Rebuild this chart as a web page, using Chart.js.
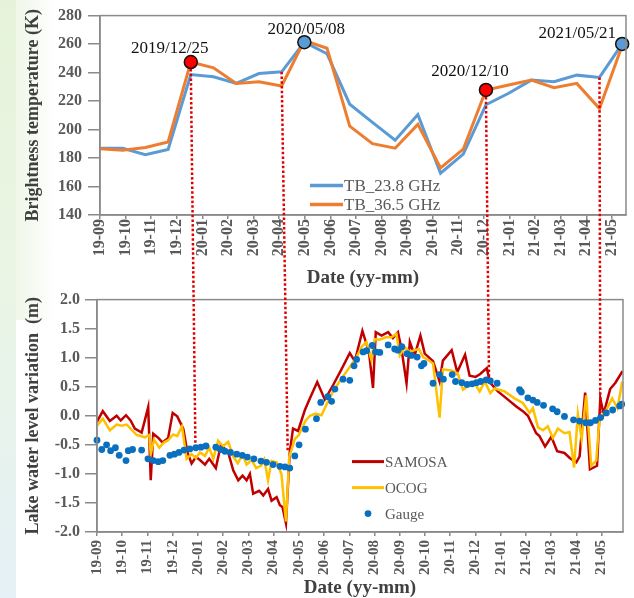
<!DOCTYPE html>
<html>
<head>
<meta charset="utf-8">
<script src="https://cdn.jsdelivr.net/npm/chart.js@4.4.0/dist/chart.umd.min.js"></script>
<style>
html,body{margin:0;padding:0;}
body{width:634px;height:598px;position:relative;overflow:hidden;background:#ffffff;}
#bgStrip{position:absolute;left:0;top:0;width:16px;height:598px;background:linear-gradient(to bottom,#e6f3da 0%,#eaf5e4 45%,#e5f1f6 100%);}
#bgGlow{position:absolute;left:16px;top:0;width:40px;height:320px;background:linear-gradient(to right,rgba(238,246,230,0.9),rgba(255,255,255,0));}
#topChart{position:absolute;left:0;top:0;}
#bottomChart{position:absolute;left:0;top:285px;}
#overlay{position:absolute;left:0;top:0;pointer-events:none;}
</style>
</head>
<body>
<div id="bgStrip"></div><div id="bgGlow"></div>
<canvas id="topChart" width="634" height="292"></canvas>
<canvas id="bottomChart" width="634" height="313"></canvas>
<canvas id="overlay" width="634" height="598"></canvas>
<script>
// ---------------- DATA ----------------
const monthLabels = ['19-09','19-10','19-11','19-12','20-01','20-02','20-03','20-04','20-05','20-06','20-07','20-08','20-09','20-10','20-11','20-12','21-01','21-02','21-03','21-04','21-05'];
const axisOrigin = '2019-09-08';

// Brightness temperature (K), one value every 27 days
const tbDates = ['2019-09-08','2019-10-05','2019-11-01','2019-11-28','2019-12-25','2020-01-21','2020-02-17','2020-03-15','2020-04-11','2020-05-08','2020-06-04','2020-07-01','2020-07-28','2020-08-24','2020-09-20','2020-10-17','2020-11-13','2020-12-10','2021-01-06','2021-02-02','2021-03-01','2021-03-28','2021-04-24','2021-05-21'];
const tb238 = [186.9,186.9,182.3,186.0,238.6,237.0,232.4,239.3,240.5,261.3,253.2,217.8,205.0,192.5,210.5,169.3,182.8,217.4,225.5,234.7,233.6,238.2,236.6,260.1];
const tb365 = [186.5,185.5,187.4,191.3,247.4,243.3,232.4,233.6,230.6,262.5,257.1,202.4,190.1,186.9,203.6,173.0,186.2,227.8,231.3,234.7,229.4,232.4,214.7,259.0];

// highlighted dates
const redMarkerIdx = [4,17];            // on TB_36.5
const redMarkerText = ['2019/12/25','2020/12/10'];
const blueMarkerIdx = [9,23];           // on TB_23.8
const blueMarkerText = ['2020/05/08','2021/05/21'];

// Lake water level variation (m); x = months since 19-09
const samosaMonth = [0,0.23,0.51,0.78,0.94,1.15,1.33,1.50,1.77,2.03,2.13,2.23,2.43,2.60,2.82,3.00,3.18,3.42,3.58,3.75,3.92,4.08,4.28,4.45,4.71,4.91,5.20,5.40,5.60,5.77,5.93,6.06,6.19,6.43,6.59,6.78,6.92,7.12,7.25,7.35,7.49,7.64,7.77,7.97,8.24,8.44,8.73,9.03,9.36,9.69,10.02,10.22,10.52,10.78,10.94,11.05,11.28,11.54,11.73,11.93,12.07,12.27,12.40,12.59,12.82,12.99,13.32,13.58,13.71,14.06,14.28,14.59,14.77,15.01,15.19,15.45,15.58,15.89,16.23,16.62,16.88,17.08,17.41,17.54,17.76,18.01,18.24,18.53,18.75,19.00,19.13,19.35,19.54,19.82,19.95,20.08,20.34,20.55,20.83];
const samosaLevel = [-0.10,0.08,-0.09,0.00,-0.08,0.01,-0.08,-0.22,-0.29,0.15,-1.11,-0.31,-0.38,-0.46,-0.38,0.05,-0.01,-0.22,-0.62,-0.82,-0.71,-0.76,-0.84,-0.74,-0.90,-0.50,-0.63,-0.94,-1.11,-1.03,-1.11,-1.00,-1.34,-1.29,-1.37,-1.26,-1.46,-1.40,-1.54,-1.57,-1.85,-0.63,-0.22,-0.26,0.10,0.30,0.58,0.28,0.53,0.80,1.08,0.94,1.46,1.10,0.48,1.44,1.38,1.44,1.34,1.44,1.15,0.56,1.27,1.04,1.38,1.07,0.94,0.59,0.95,1.13,0.75,1.05,0.69,0.67,0.72,0.82,0.57,0.42,0.30,0.16,0.08,0.00,-0.30,-0.35,-0.53,-0.36,-0.61,-0.64,-0.73,-0.80,-0.70,0.40,-0.92,-0.86,0.30,0.03,0.46,0.57,0.77];

const ocogMonth = [0,0.23,0.51,0.78,0.98,1.18,1.37,1.57,1.90,2.07,2.13,2.26,2.47,2.65,2.82,3.02,3.18,3.37,3.55,3.75,3.92,4.08,4.28,4.45,4.61,4.80,5.00,5.20,5.40,5.58,5.77,5.93,6.13,6.31,6.50,6.63,6.78,6.92,7.12,7.31,7.49,7.62,7.84,8.00,8.26,8.44,8.67,8.90,9.16,9.36,9.69,10.02,10.29,10.48,10.68,10.88,11.01,11.21,11.45,11.67,11.87,12.00,12.20,12.40,12.59,12.76,12.92,13.12,13.32,13.58,13.71,14.05,14.30,14.51,14.77,14.97,15.17,15.37,15.59,15.76,16.16,16.55,16.88,17.15,17.28,17.48,17.68,17.87,18.07,18.27,18.53,18.73,18.91,19.06,19.21,19.39,19.59,19.79,19.92,20.19,20.42,20.63,20.82];
const ocogLevel = [-0.17,-0.05,-0.25,-0.15,-0.17,-0.15,-0.24,-0.33,-0.37,-0.33,-0.66,-0.41,-0.55,-0.46,-0.42,-0.32,-0.35,-0.18,-0.74,-0.66,-0.73,-0.63,-0.69,-0.55,-0.74,-0.43,-0.52,-0.45,-0.70,-0.82,-0.67,-0.84,-0.76,-0.90,-0.86,-0.75,-1.11,-0.78,-0.80,-1.00,-1.82,-0.71,-0.40,-0.33,-0.09,0.00,0.04,0.01,0.25,0.42,0.64,0.84,1.01,1.18,1.27,0.96,1.32,1.31,1.35,1.35,1.41,1.04,1.18,1.10,1.13,1.15,1.01,0.96,0.90,-0.03,0.80,0.78,0.73,0.45,0.53,0.56,0.42,0.59,0.39,0.47,0.42,0.30,0.22,0.05,0.13,-0.20,-0.25,-0.18,-0.38,-0.22,-0.30,-0.28,-0.89,0.03,-0.40,0.35,-0.86,-0.77,-0.04,0.10,0.30,0.13,0.59];

const gaugeMonth = [0.00,0.19,0.38,0.54,0.73,0.88,1.15,1.24,1.41,1.77,2.02,2.23,2.43,2.61,2.89,3.07,3.25,3.45,3.68,3.92,4.12,4.32,4.71,4.89,5.07,5.29,5.54,5.76,5.96,6.22,6.50,6.72,6.98,7.25,7.45,7.64,7.84,8.01,8.26,8.70,8.87,9.15,9.30,9.43,9.75,10.02,10.19,10.29,10.55,10.69,10.91,11.04,11.21,11.54,11.80,11.93,12.08,12.29,12.46,12.69,12.86,12.96,13.32,13.58,13.73,14.08,14.21,14.46,14.67,14.87,15.04,15.21,15.43,15.59,15.86,16.75,16.82,17.08,17.28,17.45,17.70,18.06,18.24,18.53,18.89,19.13,19.37,19.56,19.76,19.96,20.19,20.44,20.72,20.80];
const gaugeLevel = [-0.42,-0.58,-0.50,-0.60,-0.55,-0.68,-0.77,-0.60,-0.58,-0.59,-0.74,-0.77,-0.79,-0.77,-0.68,-0.66,-0.63,-0.59,-0.57,-0.55,-0.54,-0.52,-0.54,-0.58,-0.61,-0.63,-0.66,-0.68,-0.71,-0.74,-0.78,-0.80,-0.84,-0.87,-0.88,-0.90,-0.69,-0.50,-0.23,-0.05,0.23,0.33,0.25,0.46,0.63,0.61,0.86,0.97,1.10,1.12,1.21,1.10,1.09,1.22,1.15,1.13,1.19,1.07,1.04,1.01,0.86,0.90,0.56,0.71,0.63,0.71,0.59,0.57,0.54,0.55,0.57,0.59,0.62,0.60,0.56,0.45,0.41,0.31,0.27,0.23,0.18,0.12,0.07,-0.01,-0.07,-0.09,-0.12,-0.12,-0.08,-0.03,0.05,0.10,0.17,0.20];

// connectors between the two panels
const eventTopSeries = [1,0,1,0];         // 0 = TB_23.8, 1 = TB_36.5
const eventTopIdx = [4,8,17,22];
const eventBottomMonth = [3.90,7.56,15.54,19.95];
const eventBottomLevel = [-0.49,-0.63,0.64,0.05];

// ---------------- STYLE ----------------
const SERIF = '"Liberation Serif","Times New Roman",serif';
const AXIS_C = '#8a8a8a';
const TICK_C = '#595959';
const TITLE_C = '#404040';
const C238 = '#5B9BD5', C365 = '#ED7D31';
const C_SAM = '#C00000', C_OCOG = '#FFC000', C_GAUGE = '#0A6FBF';

function monthPos(d){ return (Date.parse(d) - Date.parse(axisOrigin)) / 86400000 / 30.44; }

const framePlugin = {
  id: 'frame',
  afterDraw(chart){
    const a = chart.chartArea, c = chart.ctx;
    c.save(); c.strokeStyle = AXIS_C; c.lineWidth = 1.5;
    c.strokeRect(a.left, a.top, a.right - a.left, a.bottom - a.top);
    c.restore();
  }
};

const legendPlugin = {
  id: 'inLegend',
  afterDraw(chart, args, opts){
    const a = chart.chartArea, c = chart.ctx;
    c.save();
    c.font = opts.fontSize + 'px ' + SERIF;
    c.fillStyle = TICK_C; c.textBaseline = 'middle'; c.textAlign = 'left';
    opts.items.forEach((it, k) => {
      const y = a.top + opts.dy + k * opts.gap;
      const x0 = a.left + opts.dx;
      if (it.dot) {
        c.fillStyle = it.color; c.beginPath();
        c.arc(x0 + opts.len / 2, y, 3.4, 0, Math.PI * 2); c.fill();
      } else {
        c.strokeStyle = it.color; c.lineWidth = opts.lw; c.beginPath();
        c.moveTo(x0, y); c.lineTo(x0 + opts.len, y); c.stroke();
      }
      c.fillStyle = TICK_C;
      c.fillText(it.text, x0 + opts.len + 1, y + 1);
    });
    c.restore();
  }
};

const markerLabelPlugin = {
  id: 'markerLabels',
  afterDatasetsDraw(chart, args, opts){
    const c = chart.ctx;
    c.save();
    c.font = '17px ' + SERIF; c.fillStyle = '#111'; c.textAlign = 'center'; c.textBaseline = 'middle';
    opts.sets.forEach(s => {
      const meta = chart.getDatasetMeta(s.dataset);
      meta.data.forEach((p, k) => {
        c.fillText(s.text[k], p.x + s.off[k][0], p.y + s.off[k][1]);
      });
    });
    c.restore();
  }
};

function xScale(max, fontSize, tickPad, height){
  return {
    type: 'linear', min: 0, max: max,
    afterBuildTicks: s => { s.ticks = monthLabels.map((_, i) => ({ value: i })); },
    afterFit: s => { s.height = height; },
    ticks: { autoSkip: false, maxRotation: 90, minRotation: 90, padding: tickPad, color: TICK_C,
             font: { family: SERIF, size: fontSize, weight: 'bold' },
             callback: (v, i) => monthLabels[i] },
    grid: { drawOnChartArea: false, drawTicks: true, tickLength: 4, color: AXIS_C, lineWidth: 1.5 },
    border: { display: true, color: AXIS_C, width: 1.5 },
    title: { display: true, text: 'Date (yy-mm)', color: TITLE_C,
             font: { family: SERIF, size: 19, weight: 'bold', lineHeight: 1 }, padding: { top: 0, bottom: 0 } }
  };
}

// ---------------- TOP CHART ----------------
const topX = xScale(20.55, 16, 0, 77);
topX.title.padding = { top: 0, bottom: 4.5 };

const topChart = new Chart(document.getElementById('topChart'), {
  type: 'line',
  data: {
    datasets: [
      { label: 'TB_23.8 GHz', data: tbDates.map((d, i) => ({ x: monthPos(d), y: tb238[i] })),
        borderColor: C238, backgroundColor: C238, borderWidth: 3, pointRadius: 0, tension: 0, order: 2 },
      { label: 'TB_36.5 GHz', data: tbDates.map((d, i) => ({ x: monthPos(d), y: tb365[i] })),
        borderColor: C365, backgroundColor: C365, borderWidth: 3, pointRadius: 0, tension: 0, order: 1 },
      { label: 'red', data: redMarkerIdx.map(i => ({ x: monthPos(tbDates[i]), y: tb365[i] })),
        showLine: false, pointRadius: 6.5, pointBackgroundColor: '#FF0000', pointBorderColor: '#111', pointBorderWidth: 1.5, order: 0, clip: false },
      { label: 'blue', data: blueMarkerIdx.map(i => ({ x: monthPos(tbDates[i]), y: tb238[i] })),
        showLine: false, pointRadius: 6.5, pointBackgroundColor: C238, pointBorderColor: '#111', pointBorderWidth: 1.5, order: 0, clip: false }
    ]
  },
  options: {
    responsive: false, animation: false, devicePixelRatio: 1,
    layout: { padding: { left: 0, right: 7, top: 13, bottom: 0 } },
    scales: {
      x: topX,
      y: {
        min: 140, max: 280,
        afterFit: s => { s.width = 100; },
        ticks: { stepSize: 20, padding: 6, color: TICK_C, font: { family: SERIF, size: 16, weight: 'bold' } },
        grid: { drawOnChartArea: false, drawTicks: true, tickLength: 12, color: AXIS_C, lineWidth: 1.5 },
        border: { display: true, color: AXIS_C, width: 1.5 },
        title: { display: true, text: 'Brightness temperature (K)', color: TITLE_C,
                 font: { family: SERIF, size: 18, weight: 'bold', lineHeight: 1 }, padding: { top: 24, bottom: 0 } }
      }
    },
    plugins: {
      legend: { display: false }, tooltip: { enabled: false },
      inLegend: { items: [{ text: 'TB_23.8 GHz', color: C238 }, { text: 'TB_36.5 GHz', color: C365 }],
                  dx: 210, dy: 170, gap: 19, len: 33, lw: 3.5, fontSize: 17 },
      markerLabels: { sets: [
        { dataset: 2, text: redMarkerText, off: [[-21, -14], [-16, -18]] },
        { dataset: 3, text: blueMarkerText, off: [[2, -13], [-45, -10]] }
      ] }
    }
  },
  plugins: [framePlugin, legendPlugin, markerLabelPlugin]
});

// ---------------- BOTTOM CHART ----------------
const botX = xScale(20.85, 15, 4, 66);
botX.title.padding = { top: 0, bottom: 0.5 };

const bottomChart = new Chart(document.getElementById('bottomChart'), {
  type: 'line',
  data: {
    datasets: [
      { label: 'Gauge', data: gaugeMonth.map((m, i) => ({ x: m, y: gaugeLevel[i] })),
        showLine: false, pointRadius: 3.4, pointBackgroundColor: C_GAUGE, pointBorderWidth: 0, order: 0, clip: false },
      { label: 'OCOG', data: ocogMonth.map((m, i) => ({ x: m, y: ocogLevel[i] })),
        borderColor: C_OCOG, borderWidth: 2.5, pointRadius: 0, tension: 0, order: 1 },
      { label: 'SAMOSA', data: samosaMonth.map((m, i) => ({ x: m, y: samosaLevel[i] })),
        borderColor: C_SAM, borderWidth: 2.5, pointRadius: 0, tension: 0, order: 2 }
    ]
  },
  options: {
    responsive: false, animation: false, devicePixelRatio: 1,
    layout: { padding: { left: 0, right: 11, top: 12, bottom: 0 } },
    scales: {
      x: botX,
      y: {
        min: -2, max: 2,
        afterFit: s => { s.width = 97; },
        ticks: { stepSize: 0.5, padding: 5, color: TICK_C, font: { family: SERIF, size: 16, weight: 'bold' },
                 callback: v => v.toFixed(1) },
        grid: { drawOnChartArea: false, drawTicks: true, tickLength: 12, color: AXIS_C, lineWidth: 1.5 },
        border: { display: true, color: AXIS_C, width: 1.5 },
        title: { display: true, text: 'Lake water level variation  (m)', color: TITLE_C,
                 font: { family: SERIF, size: 18, weight: 'bold', lineHeight: 1 }, padding: { top: 24, bottom: 0 } }
      }
    },
    plugins: {
      legend: { display: false }, tooltip: { enabled: false },
      inLegend: { items: [{ text: 'SAMOSA', color: C_SAM }, { text: 'OCOG', color: C_OCOG }, { text: 'Gauge', color: C_GAUGE, dot: true }],
                  dx: 255, dy: 162, gap: 26, len: 32, lw: 3, fontSize: 15 }
    }
  },
  plugins: [framePlugin, legendPlugin]
});

// ---------------- CONNECTORS ----------------
(function drawConnectors(){
  const ov = document.getElementById('overlay').getContext('2d');
  const tc = document.getElementById('topChart'), bc = document.getElementById('bottomChart');
  ov.save();
  ov.strokeStyle = '#E00000'; ov.lineWidth = 2.5; ov.setLineDash([2.5, 2.2]);
  eventTopIdx.forEach((idx, k) => {
    const p = topChart.getDatasetMeta(eventTopSeries[k]).data[idx];
    const gap = eventTopSeries[k] === 1 ? 7 : 0;
    const x1 = p.x + tc.offsetLeft, y1 = p.y + tc.offsetTop + gap;
    const x2 = bottomChart.scales.x.getPixelForValue(eventBottomMonth[k]) + bc.offsetLeft;
    const y2 = bottomChart.scales.y.getPixelForValue(eventBottomLevel[k]) + bc.offsetTop;
    ov.beginPath(); ov.moveTo(x1, y1); ov.lineTo(x2, y2); ov.stroke();
  });
  ov.restore();
})();
</script>
</body>
</html>
